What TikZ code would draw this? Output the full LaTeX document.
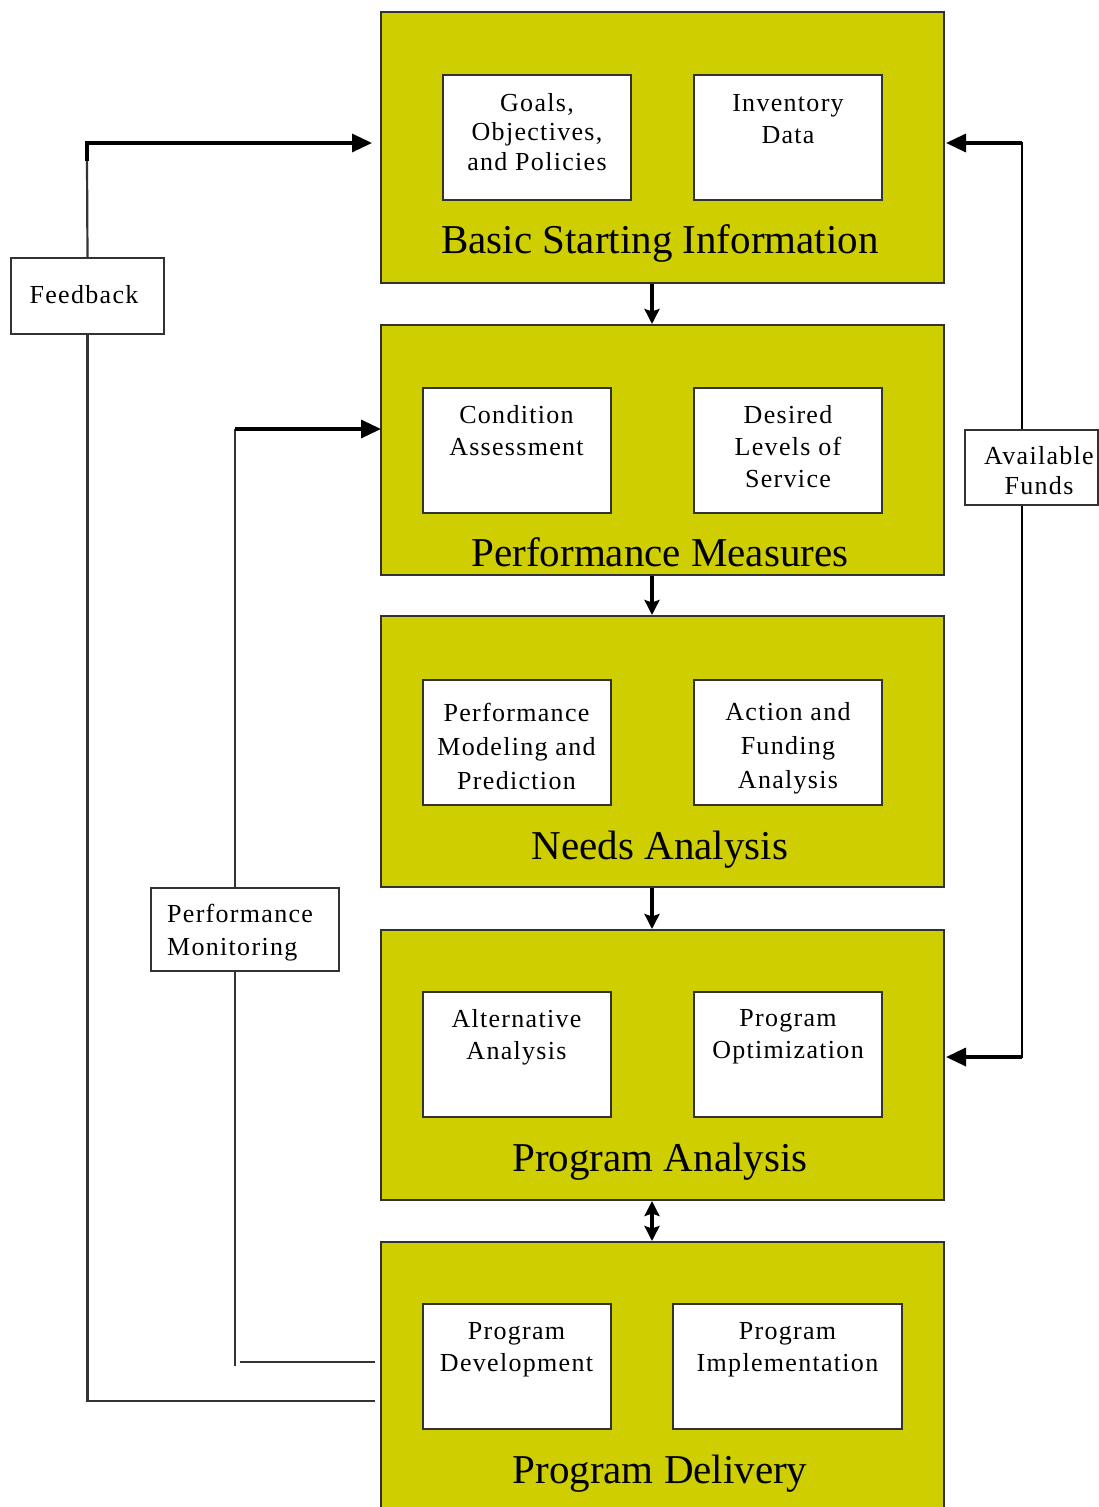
\documentclass[tikz,border=0pt]{standalone}
\usepackage{fontspec}
\setmainfont{Liberation Serif}
\newfontfamily\boxfont[LetterSpace=5]{Liberation Serif}
\usetikzlibrary{arrows.meta,calc}
\definecolor{panel}{RGB}{206,206,0}
\definecolor{edge}{RGB}{50,50,50}

\begin{document}
\begin{tikzpicture}[x=1pt,y=-1pt,
  panelbox/.style={draw=edge,line width=2,fill=panel,inner sep=0,
    minimum width=563,minimum height=#1},
  itembox/.style={draw=edge,line width=2,fill=white,inner sep=0,
    minimum width=188,minimum height=125},
  sidebox/.style={draw=edge,line width=1.8,fill=white,inner sep=0},
  itemtext/.style={inner sep=0,anchor=north,align=center,
    font=\fontsize{26}{32}\boxfont},
  sidetext/.style={inner sep=0,align=center,font=\fontsize{26}{30}\boxfont},
  title/.style={inner sep=0,anchor=base,font=\fontsize{41}{48}\selectfont},
  flow/.style={line width=3.4,-{Stealth[length=15,width=15,inset=2.5]}},
  flowboth/.style={line width=3.4,{Stealth[length=15,width=15,inset=2.5]}-{Stealth[length=15,width=15,inset=2.5]}},
  thinline/.style={line width=2.2,draw=black!80},
  sidearrow/.style={line width=3.4,-{Triangle[length=20,width=18]}},
]
\useasboundingbox (0,0) rectangle (1099,1507);
\clip (0,0) rectangle (1099,1507);

% main stages
\node[panelbox=271] (b1) at (662.5,147.5) {};
\node[panelbox=250] (b2) at (662.5,450) {};
\node[panelbox=271] (b3) at (662.5,751.5) {};
\node[panelbox=270] (b4) at (662.5,1065) {};
\node[panelbox=278] (b5) at (662.5,1381) {};

% stage titles
\node[title] (t1) at (660,253) {Basic Starting Information};
\node[title] (t2) at (660,566) {Performance Measures};
\node[title] (t3) at (660,859) {Needs Analysis};
\node[title] (t4) at (660,1171) {Program Analysis};
\node[title] (t5) at (660,1483) {Program Delivery};

% inner items
\node[itembox] (goals) at (537,137.5) {};
\node[itembox] (inv)   at (788,137.5) {};
\node[itembox] (cond)  at (516.5,450) {};
\node[itembox] (des)   at (788,450) {};
\node[itembox] (pmod)  at (516.5,742) {};
\node[itembox] (act)   at (788,742) {};
\node[itembox] (alt)   at (516.5,1054) {};
\node[itembox] (popt)  at (788,1054) {};
\node[itembox] (pdev)  at (516.5,1366.5) {};
\node[itembox,minimum width=229] (pimp) at (787.5,1366.5) {};

\node[itemtext,font=\fontsize{26}{29.5}\boxfont] (goalsT) at ([yshift=-19]goals.north) {Goals,\\Objectives,\\and Policies};
\node[itemtext] (invT)  at ([yshift=-20]inv.north)  {Inventory\\Data};
\node[itemtext] (condT) at ([yshift=-19]cond.north) {Condition\\Assessment};
\node[itemtext] (desT)  at ([yshift=-19]des.north)  {Desired\\Levels of\\Service};
\node[itemtext,font=\fontsize{26}{34}\boxfont] (pmodT) at ([yshift=-24]pmod.north) {Performance\\Modeling and\\Prediction};
\node[itemtext,font=\fontsize{26}{34}\boxfont] (actT)  at ([yshift=-24]act.north)  {Action and\\Funding\\Analysis};
\node[itemtext] (altT)  at ([yshift=-19]alt.north)  {Alternative\\Analysis};
\node[itemtext] (poptT) at ([yshift=-19]popt.north) {Program\\Optimization};
\node[itemtext] (pdevT) at ([yshift=-19]pdev.north) {Program\\Development};
\node[itemtext] (pimpT) at ([yshift=-19]pimp.north) {Program\\Implementation};

% flow between stages
\coordinate (ax) at (652,0);
\draw[flow] (b1.south -| ax) -- (b2.north -| ax);
\draw[flow] (b2.south -| ax) -- (b3.north -| ax);
\draw[flow] (b3.south -| ax) -- (b4.north -| ax);
\draw[flowboth] (b4.south -| ax) -- (b5.north -| ax);

% feedback loop
\node[sidebox,minimum width=153,minimum height=76] (fb) at (87.5,296) {};
\node[sidetext] (fbT) at (84,295) {Feedback};
\coordinate (fbS) at (375,1401);
\coordinate (fbC) at (87,143);
\coordinate (fbE) at (372,143);
\draw[thinline] (fbS) -| (fb.south);
\draw[thinline] (fb.north) -- ([yshift=-18]fbC);
\draw[sidearrow] ([yshift=-18]fbC) -- (fbC) -- (fbE);

% performance monitoring loop
\node[sidebox,minimum width=188,minimum height=83] (pm) at (245,929.5) {};
\node[sidetext,anchor=west,align=left,font=\fontsize{26}{33}\boxfont] (pmT) at (167,933) {Performance\\Monitoring};
\coordinate (pmS) at (375,1362);
\coordinate (pmB) at (240,1362);
\coordinate (pmL) at (235,1366);
\coordinate (pmC) at (235,429);
\coordinate (pmE) at (381,429);
\draw[thinline] (pmS) -- (pmB);
\draw[thinline] (pmL) -- (pmL |- pm.south);
\draw[thinline] (pmC |- pm.north) -- (pmC);
\draw[sidearrow] (pmC) -- (pmE);

% available funds
\node[sidebox,minimum width=133,minimum height=75] (af) at (1031.5,467.5) {};
\node[sidetext] (afT) at (1039,471) {Available\\Funds};
\coordinate (afT1) at (1022,143);
\coordinate (afT2) at (1022,1057);
\coordinate (afE1) at (946,143);
\coordinate (afE2) at (946,1057);
\draw[thinline,draw=black] (afT1 |- af.north) -- ([yshift=1]afT1);
\draw[thinline,draw=black] (afT2 |- af.south) -- ([yshift=-1]afT2);
\draw[sidearrow] (afT1) -- (afE1);
\draw[sidearrow] (afT2) -- (afE2);
\end{tikzpicture}
\end{document}
